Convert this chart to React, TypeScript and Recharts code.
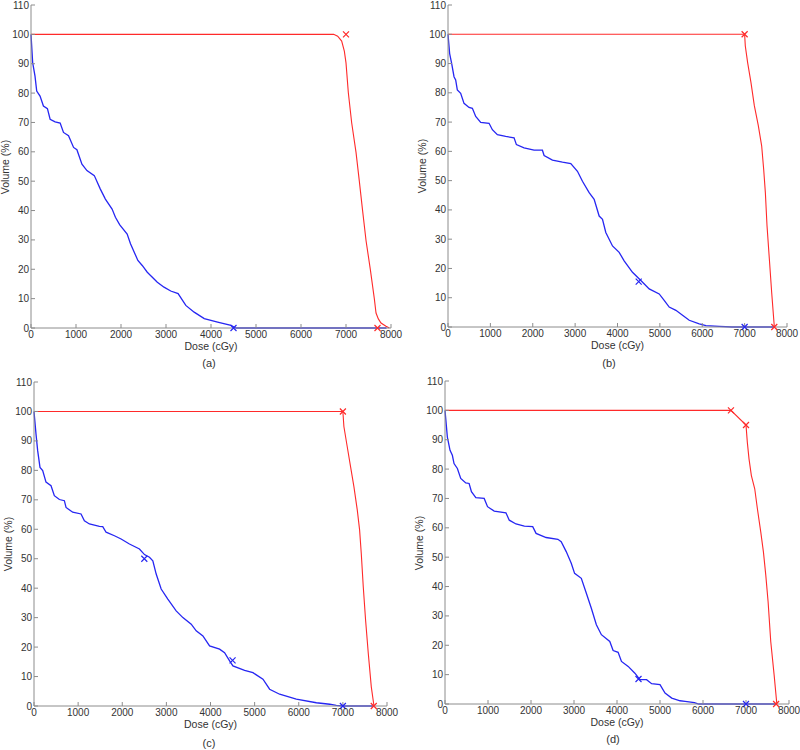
import { ComposedChart, Line, Scatter, XAxis, YAxis } from "recharts";

type Pt = [number, number];

const doseTicks = [0, 1000, 2000, 3000, 4000, 5000, 6000, 7000, 8000];
const volumeTicks = [0, 10, 20, 30, 40, 50, 60, 70, 80, 90, 100, 110];

// (a)
const oarA: Pt[] = [
  [0, 100], [37, 90.4], [89, 85.8], [127, 80.7], [201, 79], [276, 75.6], [365, 74.7], [425, 71.1],
  [536, 70.2], [648, 69.8], [722, 66.6], [834, 65.5], [946, 61.5], [1020, 60.7], [1132, 55.8],
  [1243, 53.6], [1407, 51.9], [1541, 47.3], [1653, 43.9], [1802, 40.5], [1876, 37.7], [1973, 35.1],
  [2137, 32], [2211, 28.7], [2375, 23], [2472, 21.3], [2584, 19], [2807, 15.6], [2956, 13.9],
  [3105, 12.6], [3269, 11.7], [3440, 7.7], [3626, 5.4], [3850, 3.2], [4147, 2], [4445, 0.9],
  [4520, 0.2], [4560, 0], [7900, 0],
];
const ptvA: Pt[] = [
  [0, 100], [6726, 100], [6815, 99.4], [6904, 97.7], [6963, 94.3], [7000, 90.3], [7052, 80.1],
  [7126, 69.9], [7222, 59.9], [7296, 50], [7370, 39.8], [7445, 29.8], [7541, 19.9], [7630, 9.9],
  [7667, 5.1], [7719, 3.1], [7778, 1.7], [7889, 0.6], [7963, 0],
];
const oarMarksA: Pt[] = [[4500, 0]];
const ptvMarksA: Pt[] = [[7000, 100], [7700, 0]];

// (b)
const oarB: Pt[] = [
  [0, 100], [39, 93.4], [87, 90], [142, 85.5], [181, 84.4], [220, 81], [299, 79.8], [378, 76.4],
  [496, 75], [575, 74.7], [654, 71.9], [772, 69.9], [969, 69.6], [1047, 67.4], [1165, 65.7],
  [1362, 65.1], [1559, 64.6], [1614, 62.3], [1795, 61.2], [2031, 60.4], [2228, 60.4], [2268, 58.6],
  [2465, 57], [2701, 56.3], [2898, 55.8], [3055, 53.2], [3173, 49.8], [3331, 45.9], [3449, 43.6],
  [3567, 37.9], [3646, 36.8], [3724, 32.3], [3882, 27.7], [4039, 25.5], [4157, 22.6], [4354, 18.7],
  [4551, 15.9], [4748, 13], [4984, 11.3], [5102, 9.1], [5220, 6.8], [5378, 5.7], [5535, 4],
  [5693, 2.3], [5929, 1.1], [6087, 0.5], [6400, 0.2], [6700, 0], [7700, 0],
];
const ptvB: Pt[] = [
  [0, 100], [7000, 100], [7016, 96], [7071, 90.3], [7150, 83.5], [7229, 75.6], [7323, 68.8],
  [7402, 61.9], [7449, 54], [7489, 46], [7528, 34.7], [7583, 23.3], [7638, 11.9], [7686, 2.8],
  [7701, 0],
];
const oarMarksB: Pt[] = [[4500, 15.5], [7000, 0]];
const ptvMarksB: Pt[] = [[7000, 100], [7700, 0]];

// (c)
const oarC: Pt[] = [
  [0, 100], [45, 92.4], [83, 86.7], [136, 81], [197, 79.9], [272, 76], [386, 74.8], [461, 71.4],
  [575, 70.1], [688, 69.7], [726, 67.4], [877, 65.8], [1066, 65.2], [1142, 62.9], [1256, 61.8],
  [1483, 61], [1558, 60.9], [1634, 59], [1823, 57.8], [1974, 56.7], [2163, 55], [2390, 53.3],
  [2504, 51.4], [2617, 50.5], [2693, 49.3], [2769, 44.8], [2882, 39.7], [3033, 36.3], [3222, 32.3],
  [3374, 30], [3563, 27.8], [3676, 25.5], [3828, 23.8], [3979, 20.4], [4206, 19.3], [4319, 18.1],
  [4433, 15.3], [4508, 13.6], [4773, 12.1], [4962, 11.3], [5189, 9.1], [5340, 5.7], [5567, 4],
  [5945, 2.3], [6399, 1.1], [6702, 0.6], [6850, 0.2], [7000, 0], [7700, 0],
];
const ptvC: Pt[] = [
  [0, 100], [7000, 100], [7023, 94.9], [7098, 88.1], [7174, 81.3], [7250, 74.5], [7326, 66.6],
  [7379, 59.8], [7417, 51.8], [7462, 40.5], [7515, 29.1], [7576, 17.8], [7644, 6.5], [7705, 0],
];
const oarMarksC: Pt[] = [[2500, 50], [4500, 15.5], [7000, 0]];
const ptvMarksC: Pt[] = [[7000, 100], [7700, 0]];

// (d)
const oarD: Pt[] = [
  [0, 100], [55, 90.9], [117, 86.4], [171, 84.7], [210, 81.9], [288, 80.2], [366, 76.8], [483, 75.3],
  [561, 75.1], [615, 72.3], [717, 70.3], [911, 70], [989, 67.2], [1145, 65.7], [1417, 65.1],
  [1495, 62.6], [1651, 61.3], [1846, 60.6], [2040, 60.4], [2118, 58.1], [2352, 56.7], [2625, 56.1],
  [2702, 55.3], [2819, 51.9], [2936, 47.9], [3014, 44.5], [3170, 42.8], [3287, 37.7], [3403, 32.6],
  [3520, 27], [3637, 23.6], [3832, 21.3], [3910, 18.2], [4026, 17.6], [4104, 14.5], [4260, 12.8],
  [4416, 10.5], [4533, 8.3], [4688, 8.3], [4805, 6.9], [5000, 6.6], [5117, 3.7], [5273, 2],
  [5467, 1.1], [5584, 0.9], [5800, 0.5], [5900, 0], [7700, 0],
];
const ptvD: Pt[] = [
  [0, 100], [6650, 100], [7000, 95], [7031, 89.1], [7070, 83.5], [7125, 77.8], [7203, 73.3],
  [7265, 66.5], [7343, 58.6], [7405, 51.8], [7460, 43.9], [7514, 34.8], [7576, 21.2], [7654, 9.9],
  [7717, 0],
];
const oarMarksD: Pt[] = [[4500, 8.5], [7000, 0]];
const ptvMarksD: Pt[] = [[6650, 100], [7000, 95], [7700, 0]];

const RED = "#ff2a2a";
const BLUE = "#2626f2";
const AXIS = "#8c8c8c";
const TEXT = "#333";
const FONT = "'Liberation Sans', Arial, sans-serif";

const toPts = (a: Pt[]) => a.map(([x, y]) => ({ x, y }));

const cross = (color: string) => (props: any) => {
  const { cx, cy } = props;
  if (cx == null || cy == null) return <g />;
  const r = 3;
  return (
    <path
      d={`M${cx - r},${cy - r}L${cx + r},${cy + r}M${cx - r},${cy + r}L${cx + r},${cy - r}`}
      stroke={color}
      strokeWidth={1.2}
      fill="none"
    />
  );
};

type Box = { left: number; top: number; width: number; height: number };

function DvhPanel({
  box,
  oar,
  ptv,
  oarMarks,
  ptvMarks,
  caption,
  captionX,
  captionY,
}: {
  box: Box;
  oar: Pt[];
  ptv: Pt[];
  oarMarks: Pt[];
  ptvMarks: Pt[];
  caption: string;
  captionX: number;
  captionY: number;
}) {
  const { left, top, width, height } = box;
  const padL = 30;
  const padT = 10;
  const padR = 14;
  const padB = 16;
  const axisLine = { stroke: AXIS };
  return (
    <>
      <div style={{ position: "absolute", left: left - padL, top: top - padT }}>
        <ComposedChart
          width={width + padL + padR}
          height={height + padT + padB}
          margin={{ top: padT, right: padR, bottom: 0, left: 0 }}
          style={{ fontFamily: FONT }}
        >
          <XAxis
            xAxisId="b"
            type="number"
            dataKey="x"
            domain={[0, 8000]}
            ticks={doseTicks}
            interval={0}
            height={padB}
            tickSize={-4}
            tickMargin={7}
            axisLine={axisLine}
            tickLine={{ stroke: AXIS }}
            tick={{ fill: TEXT, fontSize: 10 }}
          />
          <XAxis
            xAxisId="t"
            type="number"
            dataKey="x"
            orientation="top"
            domain={[0, 8000]}
            ticks={doseTicks}
            interval={0}
            height={0}
            mirror
            tickSize={4}
            tick={false}
            axisLine={axisLine}
            tickLine={{ stroke: AXIS }}
          />
          <YAxis
            yAxisId="l"
            type="number"
            dataKey="y"
            domain={[0, 110]}
            ticks={volumeTicks}
            interval={0}
            width={padL}
            tickSize={-4}
            tickMargin={6}
            axisLine={axisLine}
            tickLine={{ stroke: AXIS }}
            tick={{ fill: TEXT, fontSize: 10 }}
          />
          <YAxis
            yAxisId="r"
            type="number"
            dataKey="y"
            orientation="right"
            domain={[0, 110]}
            ticks={volumeTicks}
            interval={0}
            width={0}
            mirror
            tickSize={4}
            tick={false}
            axisLine={axisLine}
            tickLine={{ stroke: AXIS }}
          />
          <Line
            xAxisId="b"
            yAxisId="l"
            data={toPts(oar)}
            dataKey="y"
            type="linear"
            stroke={BLUE}
            strokeWidth={1.3}
            dot={false}
            isAnimationActive={false}
          />
          <Line
            xAxisId="b"
            yAxisId="l"
            data={toPts(ptv)}
            dataKey="y"
            type="linear"
            stroke={RED}
            strokeWidth={1.1}
            dot={false}
            isAnimationActive={false}
          />
          <Scatter
            xAxisId="b"
            yAxisId="l"
            data={toPts(oarMarks)}
            dataKey="y"
            shape={cross(BLUE)}
            isAnimationActive={false}
          />
          <Scatter
            xAxisId="b"
            yAxisId="l"
            data={toPts(ptvMarks)}
            dataKey="y"
            shape={cross(RED)}
            isAnimationActive={false}
          />
        </ComposedChart>
      </div>
      <div
        style={{
          position: "absolute",
          left: left + width / 2 - 40,
          width: 80,
          top: top + height + 12,
          textAlign: "center",
          fontSize: 10.5,
          color: TEXT,
          fontFamily: FONT,
        }}
      >
        Dose (cGy)
      </div>
      <div
        style={{
          position: "absolute",
          left: left - 26.5 - 40,
          width: 80,
          top: top + height / 2 - 6,
          textAlign: "center",
          fontSize: 10.5,
          color: TEXT,
          fontFamily: FONT,
          transform: "rotate(-90deg)",
        }}
      >
        Volume (%)
      </div>
      <div
        style={{
          position: "absolute",
          left: captionX - 20,
          width: 40,
          top: captionY - 7,
          textAlign: "center",
          fontSize: 11,
          color: TEXT,
          fontFamily: FONT,
        }}
      >
        {caption}
      </div>
    </>
  );
}

export default function App() {
  return (
    <div style={{ position: "absolute", left: 0, top: 0, width: 800, height: 750, background: "#fff" }}>
      <DvhPanel
        box={{ left: 31, top: 5, width: 360, height: 323 }}
        oar={oarA}
        ptv={ptvA}
        oarMarks={oarMarksA}
        ptvMarks={ptvMarksA}
        caption="(a)"
        captionX={209}
        captionY={364}
      />
      <DvhPanel
        box={{ left: 448, top: 5, width: 339, height: 322 }}
        oar={oarB}
        ptv={ptvB}
        oarMarks={oarMarksB}
        ptvMarks={ptvMarksB}
        caption="(b)"
        captionX={609}
        captionY={364}
      />
      <DvhPanel
        box={{ left: 34, top: 382, width: 353, height: 324 }}
        oar={oarC}
        ptv={ptvC}
        oarMarks={oarMarksC}
        ptvMarks={ptvMarksC}
        caption="(c)"
        captionX={209}
        captionY={744}
      />
      <DvhPanel
        box={{ left: 445, top: 381, width: 344, height: 323 }}
        oar={oarD}
        ptv={ptvD}
        oarMarks={oarMarksD}
        ptvMarks={ptvMarksD}
        caption="(d)"
        captionX={613}
        captionY={740}
      />
    </div>
  );
}
